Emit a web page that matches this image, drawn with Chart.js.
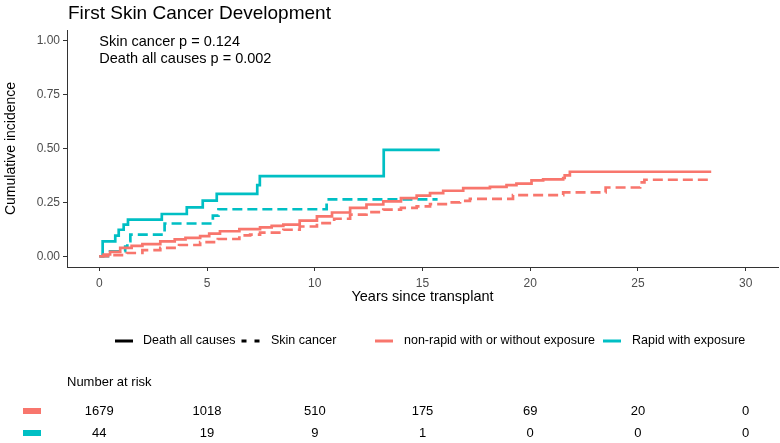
<!DOCTYPE html>
<html><head><meta charset="utf-8">
<script src="https://cdn.jsdelivr.net/npm/chart.js@4.4.1/dist/chart.umd.min.js"></script>
<style>html,body{margin:0;padding:0;background:#fff}#wrap{width:780px;height:443px;position:relative}canvas{display:block}</style>
</head><body><div id="wrap"><canvas id="c" width="780" height="443"></canvas></div>
<script>
const chartTitle = 'First Skin Cancer Development';
const xAxisTitle = 'Years since transplant';
const yAxisTitle = 'Cumulative incidence';
const xTicks = [0, 5, 10, 15, 20, 25, 30];
const yTicks = [0, 0.25, 0.5, 0.75, 1];
const groupNames = ['non-rapid with or without exposure', 'Rapid with exposure'];
const outcomeNames = ['Death all causes', 'Skin cancer'];
const pValueLabels = ['Skin cancer p = 0.124', 'Death all causes p = 0.002'];

// non-rapid, death all causes
const nonRapidDeathT = [0, 0.2, 0.5, 0.97, 1.5, 2.0, 2.83, 3.5, 4.0, 4.68, 5.1, 5.6, 6.5, 7.46, 8.0, 8.54, 9.3, 10.1, 10.8, 11.64, 12.4, 13.18, 14.0, 14.73, 15.35, 15.96, 16.89, 18.13, 18.9, 19.36, 20.06, 20.6, 21.53, 21.6, 21.84, 28.4];
const nonRapidDeathY = [0, 0.008, 0.02, 0.039, 0.048, 0.056, 0.069, 0.078, 0.085, 0.093, 0.105, 0.116, 0.126, 0.134, 0.141, 0.147, 0.165, 0.185, 0.203, 0.224, 0.24, 0.255, 0.27, 0.281, 0.293, 0.304, 0.316, 0.322, 0.33, 0.337, 0.352, 0.357, 0.363, 0.375, 0.392, 0.392];
// non-rapid, skin cancer
const nonRapidSkinT = [0, 0.5, 1.28, 2.0, 2.83, 3.7, 4.68, 5.5, 6.5, 7.0, 7.46, 8.54, 9.3, 10.1, 10.9, 11.64, 12.4, 13.18, 14.0, 14.73, 15.35, 16.27, 16.74, 17.2, 19.2, 21.53, 23.5, 25.1, 25.3, 28.4];
const nonRapidSkinY = [0, 0.005, 0.015, 0.028, 0.039, 0.052, 0.065, 0.08, 0.097, 0.1, 0.11, 0.123, 0.138, 0.154, 0.174, 0.193, 0.205, 0.216, 0.224, 0.231, 0.242, 0.25, 0.257, 0.266, 0.284, 0.296, 0.319, 0.343, 0.355, 0.355];
// rapid, death all causes
const rapidDeathT = [0, 0.155, 0.74, 0.9, 1.13, 1.33, 2.9, 4.06, 4.8, 5.45, 7.33, 7.45, 13.2, 15.8];
const rapidDeathY = [0, 0.069, 0.096, 0.123, 0.147, 0.17, 0.196, 0.227, 0.258, 0.289, 0.33, 0.372, 0.494, 0.494];
// rapid, skin cancer
const rapidSkinT = [0, 0.5, 1.2, 1.3, 1.44, 3.03, 5.27, 5.53, 10.55, 15.7];
const rapidSkinY = [0, 0.023, 0.045, 0.07, 0.1, 0.152, 0.188, 0.218, 0.264, 0.264];

const riskTimes = [0, 5, 10, 15, 20, 25, 30];
const riskNonRapid = [1679, 1018, 510, 175, 69, 20, 0];
const riskRapid = [44, 19, 9, 1, 0, 0, 0];

const SALMON = '#F8766D', TEAL = '#00BFC4';
const FONT = '"Liberation Sans", Arial, Helvetica, sans-serif';
Chart.defaults.font.family = FONT;

const pts = (T, Y) => T.map((t, i) => ({x: t, y: Y[i]}));
const DASH = [10, 5];

const decor = {
  id: 'decor',
  afterDraw(chart) {
    const ctx = chart.ctx, xs = chart.scales.x, ys = chart.scales.y, ca = chart.chartArea;
    ctx.save();
    ctx.fillStyle = '#000';
    ctx.textBaseline = 'middle';
    // title
    ctx.font = '19px ' + FONT;
    ctx.textAlign = 'left';
    ctx.fillText(chartTitle, ca.left + 1, 14);
    // p-values
    ctx.font = '14.5px ' + FONT;
    ctx.fillText(pValueLabels[0], xs.getPixelForValue(0), 42);
    ctx.fillText(pValueLabels[1], xs.getPixelForValue(0), 59);
    // legend
    const ly = 341;
    ctx.font = '12.5px ' + FONT;
    ctx.lineWidth = 3;
    const key = (x0, color, dash) => {
      ctx.strokeStyle = color;
      ctx.setLineDash(dash || []);
      ctx.beginPath(); ctx.moveTo(x0, ly); ctx.lineTo(x0 + 18, ly); ctx.stroke();
      ctx.setLineDash([]);
    };
    key(115, '#000');
    ctx.fillText(outcomeNames[0], 143, ly);
    key(241.5, '#000', [5, 8]);
    ctx.fillText(outcomeNames[1], 271, ly);
    key(375, SALMON);
    ctx.fillText(groupNames[0], 404, ly);
    key(603, TEAL);
    ctx.fillText(groupNames[1], 632, ly);
    // risk table
    ctx.font = '13px ' + FONT;
    ctx.fillText('Number at risk', 67, 382);
    const rows = [[riskNonRapid, SALMON, 411], [riskRapid, TEAL, 433]];
    ctx.textAlign = 'center';
    rows.forEach(([vals, col, y]) => {
      ctx.fillStyle = col;
      ctx.fillRect(23, y - 3, 18, 6);
      ctx.fillStyle = '#000';
      vals.forEach((v, i) => ctx.fillText(String(v), xs.getPixelForValue(riskTimes[i]), y));
    });
    ctx.restore();
  }
};

new Chart(document.getElementById('c'), {
  type: 'line',
  data: {
    datasets: [
      {label: 'nonRapidDeath', data: pts(nonRapidDeathT, nonRapidDeathY), borderColor: SALMON, borderWidth: 2.7, stepped: 'before'},
      {label: 'nonRapidSkin', data: pts(nonRapidSkinT, nonRapidSkinY), borderColor: SALMON, borderWidth: 2.7, borderDash: DASH, stepped: 'before'},
      {label: 'rapidDeath', data: pts(rapidDeathT, rapidDeathY), borderColor: TEAL, borderWidth: 2.7, stepped: 'before'},
      {label: 'rapidSkin', data: pts(rapidSkinT, rapidSkinY), borderColor: TEAL, borderWidth: 2.7, borderDash: DASH, stepped: 'before'}
    ]
  },
  options: {
    responsive: false, animation: false, devicePixelRatio: 1,
    elements: {point: {radius: 0}, line: {tension: 0, fill: false}},
    layout: {padding: {top: 30, right: 2, bottom: 137, left: 0}},
    plugins: {legend: {display: false}, tooltip: {enabled: false}, title: {display: false}},
    scales: {
      x: {
        type: 'linear', min: -1.5, max: 31.5,
        afterBuildTicks: s => { s.ticks = xTicks.map(v => ({value: v})); },
        afterFit: s => { s.height = 39; },
        ticks: {autoSkip: false, color: '#4D4D4D', font: {size: 12}, padding: 5, maxRotation: 0, callback: v => String(v)},
        grid: {display: true, drawOnChartArea: false, drawTicks: true, tickLength: 4, color: '#333'},
        border: {display: true, color: '#333', width: 1},
        title: {display: true, text: xAxisTitle, color: '#000', font: {size: 14.5}, padding: {top: 0, bottom: 0}}
      },
      y: {
        type: 'linear', min: -0.05, max: 1.05,
        afterBuildTicks: s => { s.ticks = yTicks.map(v => ({value: v})); },
        afterFit: s => { s.width = 67; },
        ticks: {autoSkip: false, color: '#4D4D4D', font: {size: 12}, padding: 3, callback: v => Number(v).toFixed(2)},
        grid: {display: true, drawOnChartArea: false, drawTicks: true, tickLength: 4, color: '#333'},
        border: {display: true, color: '#333', width: 1},
        title: {display: true, text: yAxisTitle, color: '#000', font: {size: 14}, padding: {top: 3, bottom: 0}}
      }
    }
  },
  plugins: [decor]
});
</script>
</body></html>
